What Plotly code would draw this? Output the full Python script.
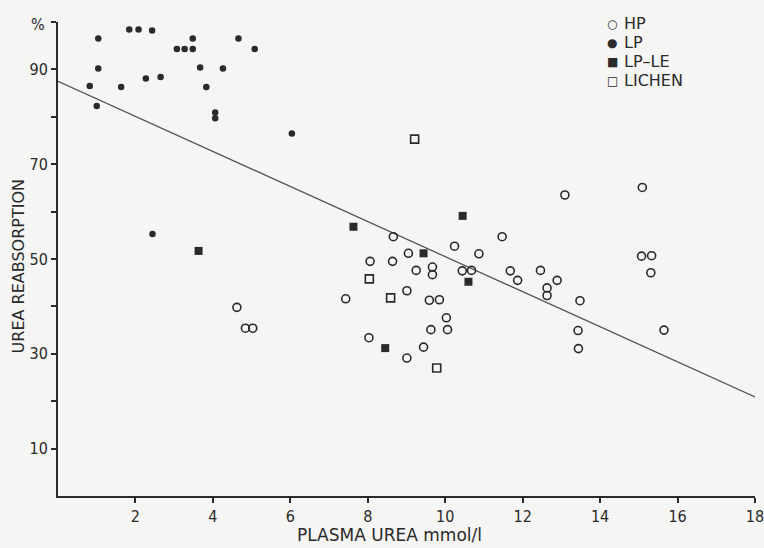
import plotly.graph_objects as go

# --- data ---
hp_x = [4.62, 4.84, 5.03, 8.66, 8.06, 8.64, 9.05, 10.24, 10.87, 11.47, 9.25, 9.67, 9.67,
        10.44, 10.68, 11.68, 12.46, 11.87, 12.63, 12.63, 7.43, 9.01, 9.59, 9.85, 10.03,
        9.63, 10.06, 8.03, 9.44, 9.01, 13.09, 15.09, 15.07, 15.33, 15.31, 12.89, 13.48,
        13.43, 13.44, 15.65]
hp_y = [39.8, 35.4, 35.4, 54.7, 49.5, 49.5, 51.2, 52.7, 51.1, 54.7, 47.6, 48.3, 46.7,
        47.5, 47.6, 47.5, 47.6, 45.5, 43.9, 42.3, 41.6, 43.3, 41.3, 41.4, 37.6,
        35.1, 35.1, 33.4, 31.4, 29.1, 63.5, 65.1, 50.6, 50.7, 47.1, 45.5, 41.2,
        34.9, 31.1, 35.0]

lp_x = [1.04, 1.84, 2.08, 2.43, 1.04, 0.82, 1.00, 1.63, 2.27, 2.65, 3.07, 3.27, 3.48,
        3.48, 3.67, 3.83, 4.06, 4.06, 4.26, 4.66, 5.08, 6.04, 2.44]
lp_y = [96.5, 98.4, 98.4, 98.2, 90.2, 86.5, 82.3, 86.3, 88.1, 88.4, 94.3, 94.3, 94.3,
        96.5, 90.4, 86.3, 80.9, 79.7, 90.2, 96.5, 94.3, 76.5, 55.3]

lple_x = [3.63, 7.63, 10.45, 9.44, 10.60, 8.45]
lple_y = [51.7, 56.8, 59.1, 51.2, 45.2, 31.2]

lichen_x = [9.21, 8.04, 8.59, 9.78]
lichen_y = [75.3, 45.8, 41.8, 27.0]

fit_x = [0, 18]
fit_y = [87.5, 20.9]

x_ticks = [2, 4, 6, 8, 10, 12, 14, 16, 18]
y_ticks = [10, 20, 30, 40, 50, 60, 70, 80, 90, 100]
y_ticklabels = ["10", "", "30", "", "50", "", "70", "", "90", ""]

legend_names = ["HP", "LP", "LP\u2013LE", "LICHEN"]
legend_glyphs = ["\u25cb", "\u25cf", "\u25a0", "\u25a1"]

INK = "#2a2a2a"
BG = "#f5f5f3"
FONT = "DejaVu Sans Condensed, DejaVu Sans, sans-serif"
WIDE = "DejaVu Sans, sans-serif"

fig = go.Figure()
fig.add_trace(go.Scatter(x=fit_x, y=fit_y, mode="lines", line=dict(color="#555", width=1.3),
                         showlegend=False, hoverinfo="skip"))
fig.add_trace(go.Scatter(x=hp_x, y=hp_y, mode="markers", name=legend_names[0],
                         marker=dict(symbol="circle-open", size=8, color=INK, line=dict(width=1.6))))
fig.add_trace(go.Scatter(x=lp_x, y=lp_y, mode="markers", name=legend_names[1],
                         marker=dict(symbol="circle", size=6.5, color=INK)))
fig.add_trace(go.Scatter(x=lple_x, y=lple_y, mode="markers", name=legend_names[2],
                         marker=dict(symbol="square", size=8, color=INK)))
fig.add_trace(go.Scatter(x=lichen_x, y=lichen_y, mode="markers", name=legend_names[3],
                         marker=dict(symbol="square-open", size=8, color=INK, line=dict(width=1.6))))

annotations = [
    dict(text="%", x=0, y=1.0, xref="paper", yref="paper", xanchor="right",
         yanchor="middle", xshift=-11, yshift=-2, showarrow=False, font=dict(size=16, color=INK)),
    dict(text="UREA REABSORPTION", x=-0.057, y=0.485, xref="paper", yref="paper",
         textangle=-90, xanchor="center", yanchor="middle", showarrow=False,
         font=dict(size=16, color=INK, family=WIDE)),
    dict(text="PLASMA UREA mmol/l", x=0.476, y=-0.082, xref="paper", yref="paper",
         xanchor="center", yanchor="middle", showarrow=False,
         font=dict(size=17, color=INK, family=WIDE)),
]
leg_rows = [0.996, 0.956, 0.916, 0.876]
for name, glyph, yy in zip(legend_names, legend_glyphs, leg_rows):
    annotations.append(dict(text=glyph, x=0.795, y=yy, xref="paper", yref="paper",
                            xanchor="center", yanchor="middle", showarrow=False,
                            font=dict(size=12, color=INK, family=WIDE)))
    annotations.append(dict(text=name, x=0.809, y=yy, xref="paper", yref="paper",
                            xanchor="left", yanchor="middle", showarrow=False,
                            font=dict(size=16, color=INK, family=WIDE)))

fig.update_layout(
    width=764, height=548,
    margin=dict(l=58, r=9, t=22, b=52, autoexpand=False),
    paper_bgcolor=BG, plot_bgcolor=BG,
    font=dict(family=FONT, color=INK, size=16),
    showlegend=False,
    xaxis=dict(range=[0, 18], tickvals=x_ticks, ticktext=[str(v) for v in x_ticks],
               showgrid=False, zeroline=False, showline=True, linecolor=INK, linewidth=1.8,
               ticks="outside", ticklen=5, tickwidth=1.5, tickcolor=INK,
               tickfont=dict(size=16), ticklabeloverflow="allow", automargin=False),
    yaxis=dict(range=[0, 100], tickvals=y_ticks, ticktext=y_ticklabels,
               showgrid=False, zeroline=False, showline=True, linecolor=INK, linewidth=1.8,
               ticks="outside", ticklen=5, tickwidth=1.5, tickcolor=INK,
               tickfont=dict(size=16), automargin=False),
    annotations=annotations,
)

fig.write_html("out.html", config={"displayModeBar": False},
               post_script="document.body.style.margin='0';")
